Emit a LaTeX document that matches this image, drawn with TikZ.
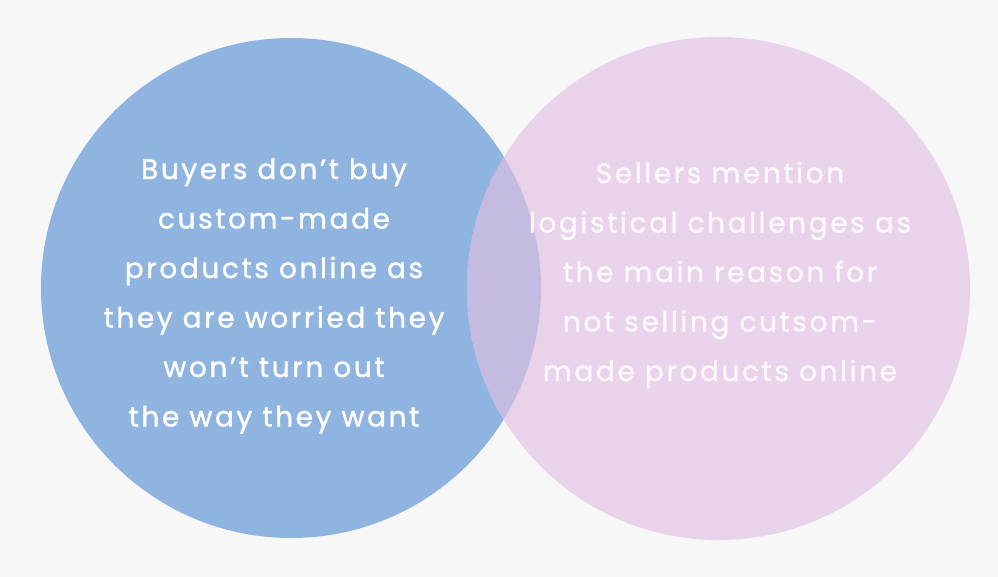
\documentclass[tikz,border=0pt]{standalone}
\usepackage{fontspec}
\setmainfont{Poppins}[LetterSpace=9.3,FakeBold=1.2]
\definecolor{backgray}{HTML}{F7F7F7}
\definecolor{buyercol}{HTML}{90B4E0}
\definecolor{sellercol}{HTML}{E8D3EA}
\definecolor{overlapcol}{HTML}{C5BBE0}
\definecolor{sellertext}{HTML}{FCF7FC}

\begin{document}
\begin{tikzpicture}[x=1pt,y=-1pt,
	circletext/.style={align=center,inner sep=0pt,
		font=\fontsize{28}{49.5}\selectfont}]
	\fill[backgray] (0,0) rectangle (998,577);
	\coordinate (B) at (291,288);
	\coordinate (S) at (718.5,288.5);
	\fill[buyercol] (B) circle (250pt);
	\fill[sellercol] (S) circle (251.5pt);
	\begin{scope}
		\clip (S) circle (251.5pt);
		\fill[overlapcol] (B) circle (250pt);
	\end{scope}
	\node[circletext,white] (buyers) at (274,296) {Buyers don’t buy\\custom-made\\products online as\\they are worried they\\won’t turn out\\the way they want};
	\node[circletext,sellertext] (sellers) at (720,275) {Sellers mention\\logistical challenges as\\the main reason for\\not selling cutsom-\\made products online};
\end{tikzpicture}
\end{document}
